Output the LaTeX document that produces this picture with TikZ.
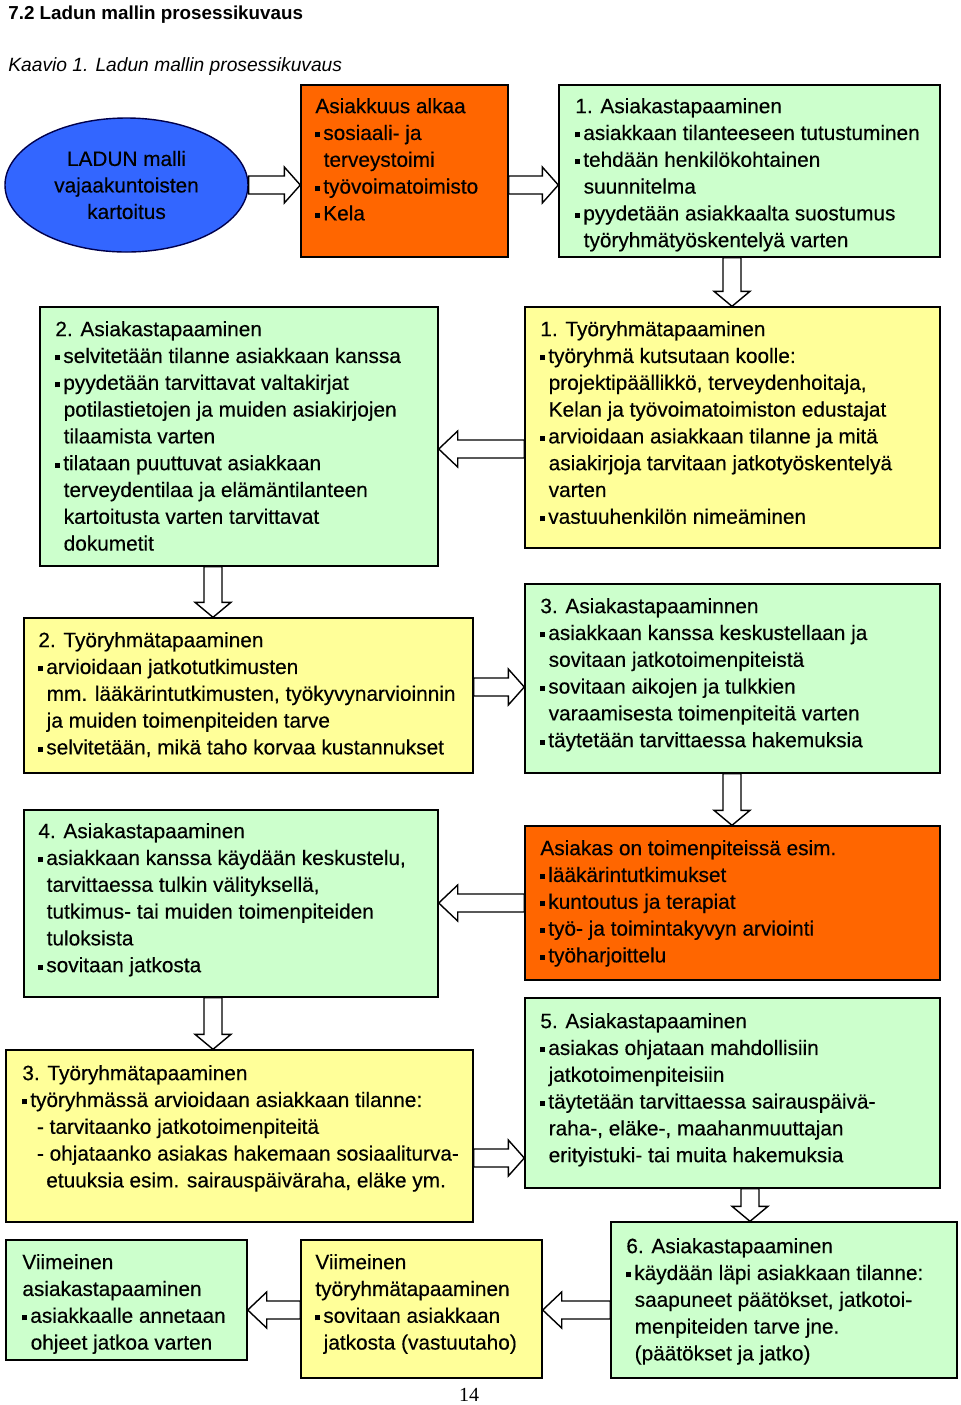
\documentclass[tikz,border=0pt]{standalone}
\usepackage{fontspec}
\setmainfont{Liberation Sans}
\newfontfamily\bxfont{Liberation Sans}[FakeBold=0.35]
\newfontfamily\serifnum{Liberation Serif}
\usetikzlibrary{shapes.geometric,fit,calc}
\definecolor{grn}{HTML}{CCFFCC}
\definecolor{ylw}{HTML}{FFFF99}
\definecolor{org}{HTML}{FF6600}
\definecolor{blu}{HTML}{3366FF}
\newcommand\bul{\rule[0.12em]{0.24em}{0.24em}\hspace{0.14em}}
\newcommand\ind{\hspace*{0.4em}}
\newcommand\arR[2]{\draw[barr] let \p1=(#1),\p2=(#2) in (\x1,\y1+4.5pt) -- (\x2-8pt,\y1+4.5pt) -- (\x2-8pt,\y1+9pt) -- (\x2,\y1) -- (\x2-8pt,\y1-9pt) -- (\x2-8pt,\y1-4.5pt) -- (\x1,\y1-4.5pt) -- cycle;}
\newcommand\arL[2]{\draw[barr] let \p1=(#1),\p2=(#2) in (\x1,\y1+4.5pt) -- (\x2+9.5pt,\y1+4.5pt) -- (\x2+9.5pt,\y1+9pt) -- (\x2,\y1) -- (\x2+9.5pt,\y1-9pt) -- (\x2+9.5pt,\y1-4.5pt) -- (\x1,\y1-4.5pt) -- cycle;}
\newcommand\arD[2]{\draw[barr] let \p1=(#1),\p2=(#2) in (\x1+4.5pt,\y1) -- (\x1+4.5pt,\y2+7.5pt) -- (\x1+9pt,\y2+7.5pt) -- (\x1,\y2) -- (\x1-9pt,\y2+7.5pt) -- (\x1-4.5pt,\y2+7.5pt) -- (\x1-4.5pt,\y1) -- cycle;}
\begin{document}
\begin{tikzpicture}[x=0.5pt,y=-0.5pt,
  box/.style={draw=black, line width=0.7pt, inner sep=0pt},
  tx/.style={anchor=north west, inner sep=0pt, align=left, font=\bxfont\fontsize{10.4}{13.4}\selectfont},
  barr/.style={draw=black, fill=white, line width=0.7pt, line join=miter}]
\useasboundingbox (0,0) rectangle (960,1405);
% headings
\node[anchor=base west, inner sep=0pt, font=\bfseries\fontsize{9.4}{11}\selectfont] (title) at (8,19) {7.2 Ladun mallin prosessikuvaus};
\node[anchor=base west, inner sep=0pt, font=\itshape\fontsize{9.6}{11}\selectfont] (cap) at (8,71) {Kaavio 1. Ladun mallin prosessikuvaus};
\node[inner sep=0pt, font=\serifnum\fontsize{10}{12}\selectfont] (pg) at (469,1395) {14};
% boxes
\node[ellipse, draw=black!70!blue, line width=0.7pt, fill=blu, minimum width=121.5pt, minimum height=67pt, inner sep=0pt, align=center, font=\bxfont\fontsize{10.4}{13.25}\selectfont] (b1) at (126.5,185) {LADUN malli\\vajaakuntoisten\\kartoitus};
\node[box, fill=org, fit={(301,85) (508,257)}] (b2) {};
\node[box, fill=grn, fit={(559,85) (940,257)}] (b3) {};
\node[box, fill=grn, fit={(40,307) (438,566)}] (b4) {};
\node[box, fill=ylw, fit={(525,307) (940,548)}] (b5) {};
\node[box, fill=ylw, fit={(24,618) (473,773)}] (b6) {};
\node[box, fill=grn, fit={(525,584) (940,773)}] (b7) {};
\node[box, fill=grn, fit={(24,810) (438,997)}] (b8) {};
\node[box, fill=org, fit={(525,826) (940,980)}] (b9) {};
\node[box, fill=ylw, fit={(6,1050) (473,1222)}] (b10) {};
\node[box, fill=grn, fit={(525,998) (940,1188)}] (b11) {};
\node[box, fill=grn, fit={(611,1222) (957,1378)}] (b12) {};
\node[box, fill=grn, fit={(6,1240) (247,1360)}] (b13) {};
\node[box, fill=ylw, fit={(301,1240) (542,1378)}] (b14) {};
% arrows
\arR{b1.east}{b2.west}
\arR{b2.east |- 0,185}{b3.west}
\arD{b3.south -| 732,0}{b5.north}
\arL{b5.west |- 0,449}{b4.east}
\arD{b4.south -| 213,0}{b6.north}
\arR{b6.east |- 0,687}{b7.west}
\arD{b7.south -| 732,0}{b9.north}
\arL{b9.west |- 0,903}{b8.east}
\arD{b8.south -| 213,0}{b10.north}
\arR{b10.east |- 0,1158}{b11.west}
\arD{b11.south -| 750,0}{b12.north}
\arL{b12.west |- 0,1310}{b14.east}
\arL{b14.west |- 0,1310}{b13.east}
% texts
\node[tx] (t2) at (315,94) {\strut Asiakkuus alkaa\\\bul sosiaali- ja\\\ind terveystoimi\\\bul työvoimatoimisto\\\bul Kela};
\node[tx] (t3) at (575,94) {\strut 1. Asiakastapaaminen\\\bul asiakkaan tilanteeseen tutustuminen\\\bul tehdään henkilökohtainen\\\ind suunnitelma\\\bul pyydetään asiakkaalta suostumus\\\ind työryhmätyöskentelyä varten};
\node[tx] (t4) at (55,317) {\strut 2. Asiakastapaaminen\\\bul selvitetään tilanne asiakkaan kanssa\\\bul pyydetään tarvittavat valtakirjat\\\ind potilastietojen ja muiden asiakirjojen\\\ind tilaamista varten\\\bul tilataan puuttuvat asiakkaan\\\ind terveydentilaa ja elämäntilanteen\\\ind kartoitusta varten tarvittavat\\\ind dokumetit};
\node[tx] (t5) at (540,317) {\strut 1. Työryhmätapaaminen\\\bul työryhmä kutsutaan koolle:\\\ind projektipäällikkö, terveydenhoitaja,\\\ind Kelan ja työvoimatoimiston edustajat\\\bul arvioidaan asiakkaan tilanne ja mitä\\\ind asiakirjoja tarvitaan jatkotyöskentelyä\\\ind varten\\\bul vastuuhenkilön nimeäminen};
\node[tx] (t6) at (38,628) {\strut 2. Työryhmätapaaminen\\\bul arvioidaan jatkotutkimusten\\\ind mm. lääkärintutkimusten, työkyvynarvioinnin\\\ind ja muiden toimenpiteiden tarve\\\bul selvitetään, mikä taho korvaa kustannukset};
\node[tx] (t7) at (540,594) {\strut 3. Asiakastapaaminnen\\\bul asiakkaan kanssa keskustellaan ja\\\ind sovitaan jatkotoimenpiteistä\\\bul sovitaan aikojen ja tulkkien\\\ind varaamisesta toimenpiteitä varten\\\bul täytetään tarvittaessa hakemuksia};
\node[tx] (t8) at (38,819) {\strut 4. Asiakastapaaminen\\\bul asiakkaan kanssa käydään keskustelu,\\\ind tarvittaessa tulkin välityksellä,\\\ind tutkimus- tai muiden toimenpiteiden\\\ind tuloksista\\\bul sovitaan jatkosta};
\node[tx] (t9) at (540,836) {\strut Asiakas on toimenpiteissä esim.\\\bul lääkärintutkimukset\\\bul kuntoutus ja terapiat\\\bul työ- ja toimintakyvyn arviointi\\\bul työharjoittelu};
\node[tx] (t10) at (22,1061) {\strut 3. Työryhmätapaaminen\\\bul työryhmässä arvioidaan asiakkaan tilanne:\\\hspace*{0.7em}- tarvitaanko jatkotoimenpiteitä\\\hspace*{0.7em}- ohjataanko asiakas hakemaan sosiaaliturva-\\\hspace*{1.15em}etuuksia esim. sairauspäiväraha, eläke ym.};
\node[tx] (t11) at (540,1009) {\strut 5. Asiakastapaaminen\\\bul asiakas ohjataan mahdollisiin\\\ind jatkotoimenpiteisiin\\\bul täytetään tarvittaessa sairauspäivä-\\\ind raha-, eläke-, maahanmuuttajan\\\ind erityistuki- tai muita hakemuksia};
\node[tx] (t12) at (626,1234) {\strut 6. Asiakastapaaminen\\\bul käydään läpi asiakkaan tilanne:\\\ind saapuneet päätökset, jatkotoi-\\\ind menpiteiden tarve jne.\\\ind (päätökset ja jatko)};
\node[tx] (t13) at (22,1250) {\strut Viimeinen\\asiakastapaaminen\\\bul asiakkaalle annetaan\\\ind ohjeet jatkoa varten};
\node[tx] (t14) at (315,1250) {\strut Viimeinen\\työryhmätapaaminen\\\bul sovitaan asiakkaan\\\ind jatkosta (vastuutaho)};
\end{tikzpicture}
\end{document}
